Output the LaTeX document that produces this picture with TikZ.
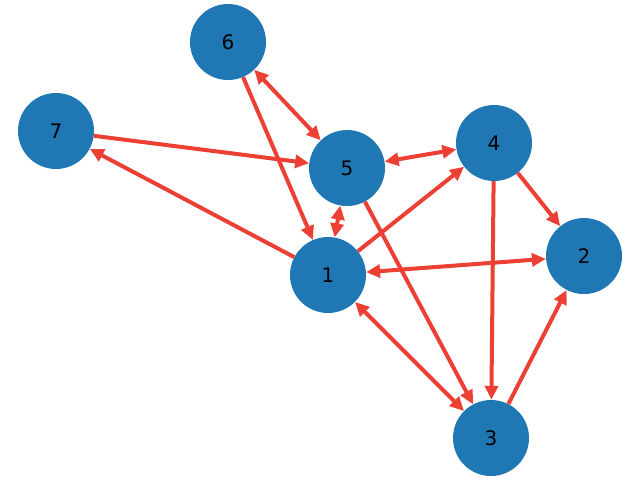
\documentclass[tikz,border=0pt]{standalone}
\usepackage{fontspec}
\setmainfont{DejaVu Sans}
\usetikzlibrary{arrows.meta}
\definecolor{nodeblue}{HTML}{1F77B4}
\definecolor{edgered}{RGB}{236,64,52}
\begin{document}
\begin{tikzpicture}[x=1pt,y=-1pt,
  vert/.style={circle,fill=nodeblue,minimum size=76pt,inner sep=0pt,font=\fontsize{20}{24}\selectfont},
  edge/.style={draw=edgered,line width=4pt,-{Triangle[length=14pt,width=13pt]}},
  bedge/.style={draw=edgered,line width=4pt,{Triangle[length=14pt,width=13pt]}-{Triangle[length=14pt,width=13pt]}}]
\useasboundingbox (0,0) rectangle (640,480);
\node[vert] (n6) at (228,42) {6};
\node[vert] (n7) at (56,131) {7};
\node[vert] (n5) at (347,168) {5};
\node[vert] (n4) at (494,143) {4};
\node[vert] (n2) at (584,256) {2};
\node[vert] (n1) at (328,275) {1};
\node[vert] (n3) at (491,438) {3};
\draw[edge] (n7) -- (n5);
\draw[edge] (n1) -- (n7);
\draw[edge] (n6) -- (n1);
\draw[bedge] (n6) -- (n5);
\draw[bedge] (n5) -- (n4);
\draw[edge] (n5) -- (n3);
\draw[edge] (n1) -- (n4);
\draw[edge] (n4) -- (n2);
\draw[edge] (n4) -- (n3);
\draw[bedge] (n1) -- (n2);
\draw[bedge] (n1) -- (n3);
\draw[edge] (n3) -- (n2);
\draw[bedge] (n1) -- (n5);
\end{tikzpicture}
\end{document}
